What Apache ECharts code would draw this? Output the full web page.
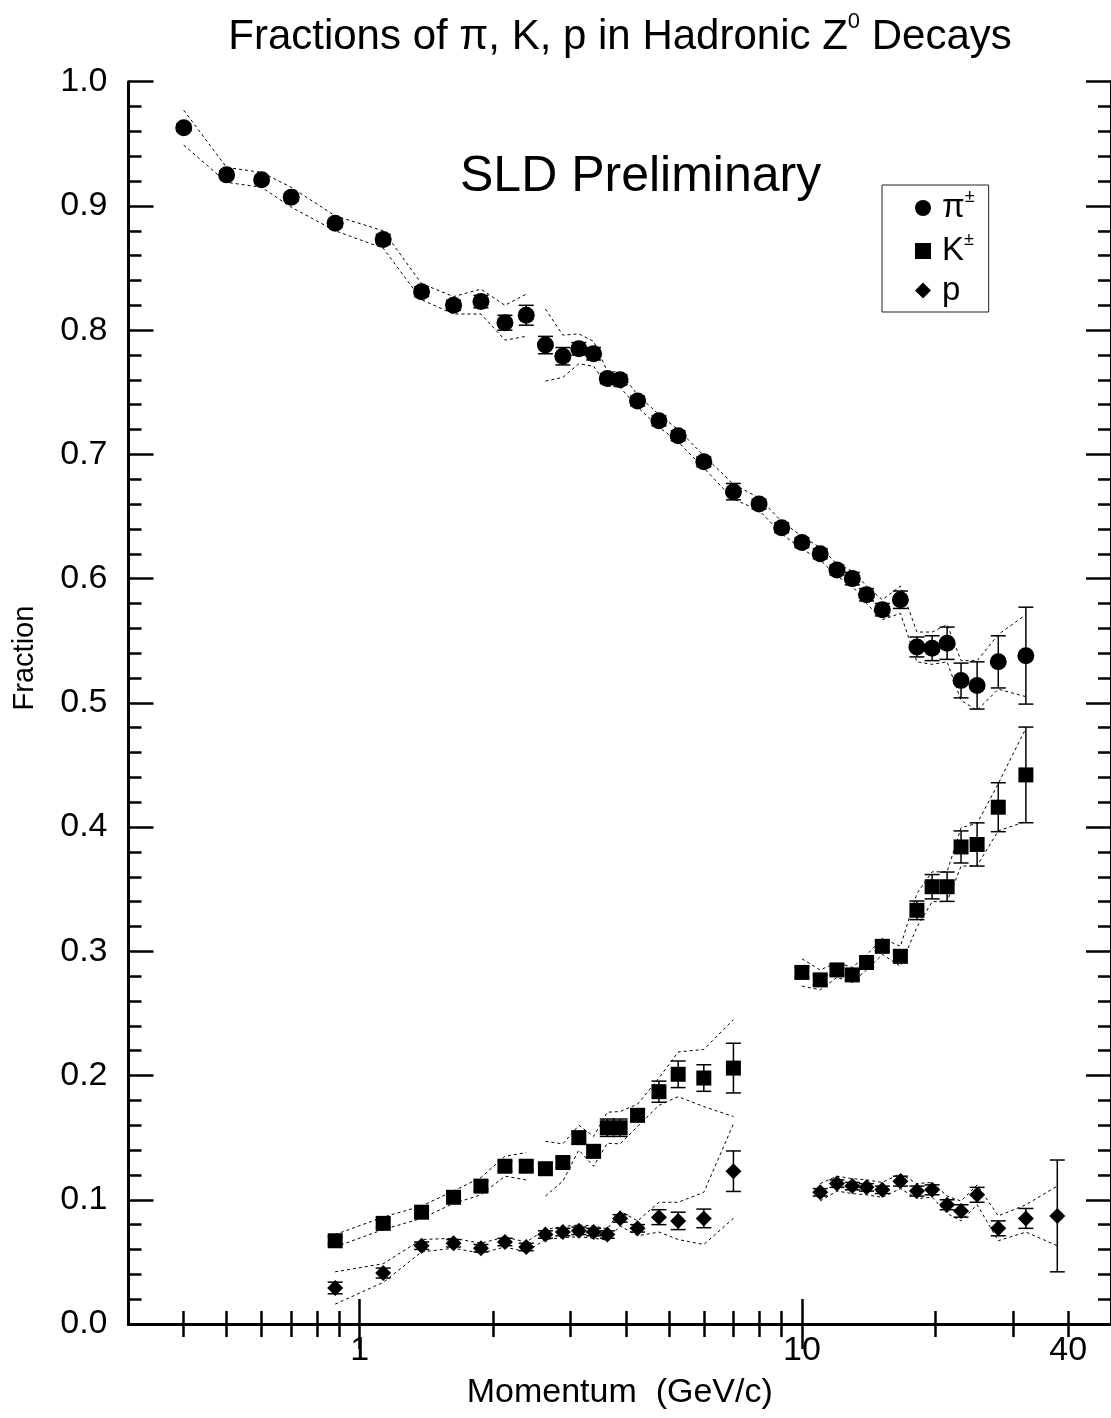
<!DOCTYPE html>
<html>
<head>
<meta charset="utf-8">
<script src="https://cdn.jsdelivr.net/npm/echarts@6/dist/echarts.min.js"></script>
<style>
html,body{margin:0;padding:0;background:#fff;}
#chart{width:1111px;height:1418px;}
</style>
</head>
<body>
<div id="chart"></div>
<script>
// ---------------- data ----------------
// pions
const xPi = [0.4,0.5,0.6,0.7,0.88,1.13,1.38,1.63,1.88,2.13,2.38,2.63,2.88,3.13,3.38,3.63,3.88,4.25,4.75,5.25,6.0,7.0,8.0,9.0,10.0,11.0,12.0,13.0,14.0,15.2,16.7,18.2,19.7,21.3,22.9,24.9,27.8,32.1];
const yPi = [0.963,0.925,0.921,0.907,0.886,0.873,0.831,0.820,0.823,0.806,0.812,0.788,0.779,0.785,0.781,0.761,0.760,0.743,0.727,0.715,0.694,0.670,0.660,0.641,0.629,0.620,0.607,0.600,0.587,0.575,0.583,0.545,0.544,0.548,0.518,0.514,0.533,0.538];
const errPi = [0.003,0.003,0.003,0.003,0.003,0.004,0.004,0.004,0.005,0.006,0.008,0.007,0.007,0.005,0.005,0.004,0.004,0.004,0.004,0.004,0.004,0.0066,0.004,0.004,0.004,0.004,0.004,0.005,0.005,0.005,0.007,0.008,0.010,0.013,0.014,0.019,0.021,0.039];
const sysPi = [0.014,0.006,0.006,0.008,0.006,0.007,0.0065,0.007,0.010,0.014,0.017,0.029,0.017,0.012,0.010,0.006,0.006,0.005,0.005,0.005,0.005,0.006,0.005,0.005,0.005,0.005,0.005,0.006,0.007,0.008,0.011,0.012,0.013,0.015,0.016,0.020,0.022,0.033];
const segPi = [[0,10],[11,37]];

// kaons
const xK = [0.88,1.13,1.38,1.63,1.88,2.13,2.38,2.63,2.88,3.13,3.38,3.63,3.88,4.25,4.75,5.25,6.0,7.0,10.0,11.0,12.0,13.0,14.0,15.2,16.7,18.2,19.7,21.3,22.9,24.9,27.8,32.1];
const yK = [0.067,0.081,0.090,0.102,0.111,0.127,0.127,0.125,0.130,0.150,0.139,0.158,0.158,0.168,0.187,0.201,0.198,0.206,0.283,0.277,0.285,0.281,0.291,0.304,0.296,0.333,0.352,0.352,0.384,0.386,0.416,0.442];
const errK = [0.003,0.003,0.003,0.003,0.004,0.004,0.004,0.004,0.004,0.005,0.005,0.007,0.007,0.005,0.0085,0.0107,0.0107,0.020,0.004,0.004,0.004,0.004,0.004,0.004,0.005,0.0075,0.0098,0.0118,0.0129,0.0174,0.0197,0.0385];
const sysK = [0.005,0.005,0.005,0.005,0.007,0.008,0.011,0.022,0.015,0.010,0.012,0.0125,0.013,0.009,0.011,0.018,0.023,0.039,0.011,0.008,0.006,0.006,0.006,0.0065,0.008,0.0135,0.012,0.012,0.0155,0.017,0.019,0.0375];
const segK = [[0,6],[7,17],[18,31]];

// protons
const xP = [0.88,1.13,1.38,1.63,1.88,2.13,2.38,2.63,2.88,3.13,3.38,3.63,3.88,4.25,4.75,5.25,6.0,7.0,11.0,12.0,13.0,14.0,15.2,16.7,18.2,19.7,21.3,22.9,24.9,27.8,32.1,37.8];
const yP = [0.029,0.041,0.063,0.065,0.061,0.066,0.062,0.072,0.074,0.075,0.074,0.072,0.085,0.077,0.086,0.083,0.085,0.123,0.106,0.113,0.111,0.110,0.108,0.115,0.107,0.108,0.096,0.091,0.104,0.077,0.085,0.087];
const errP = [0.0047,0.004,0.003,0.003,0.003,0.003,0.003,0.003,0.003,0.003,0.003,0.003,0.003,0.003,0.006,0.007,0.0075,0.0163,0.003,0.003,0.003,0.003,0.003,0.004,0.004,0.004,0.004,0.005,0.006,0.006,0.008,0.045];
const sysP = [0.013,0.0075,0.005,0.004,0.004,0.004,0.004,0.004,0.0045,0.0047,0.005,0.0045,0.006,0.006,0.012,0.015,0.021,0.038,0.007,0.006,0.006,0.006,0.006,0.006,0.006,0.006,0.007,0.008,0.008,0.010,0.011,0.024];
const segP = [[0,17],[18,31]];

// axis ticks / labels
const xMajorTicks = [1, 10];
const xMinorTicks = [0.4,0.5,0.6,0.7,0.8,0.9,2,3,4,5,6,7,8,9,20,30,40];
const xLabels = [1, 10, 40];
const yMinorTicks = [];
for (let i = 0; i <= 50; i++) { if (i % 5 !== 0) yMinorTicks.push(+(i * 0.02).toFixed(2)); }

// ---------------- chart ----------------
const FONT = '"Liberation Sans", Arial, Helvetica, sans-serif';
const BLACK = '#000';
const chart = echarts.init(document.getElementById('chart'), null, {renderer: 'canvas'});

function bandSeries(xs, ys, sys, segs) {
  const out = [];
  segs.forEach(([a, b]) => {
    [1, -1].forEach(sign => {
      const d = [];
      for (let i = a; i <= b; i++) d.push([xs[i], ys[i] + sign * sys[i]]);
      out.push({
        type: 'line', data: d, showSymbol: false, silent: true, z: 1,
        lineStyle: {color: BLACK, width: 1, type: [3, 3]}
      });
    });
  });
  return out;
}
function errSeries(xs, ys, err) {
  return {
    type: 'custom', silent: true, z: 2,
    data: xs.map((x, i) => [x, ys[i] - err[i], ys[i] + err[i]]),
    encode: {x: 0, y: [1, 2]},
    renderItem: function (params, api) {
      const x = api.value(0);
      const p1 = api.coord([x, api.value(2)]);
      const p2 = api.coord([x, api.value(1)]);
      const cw = 7.5;
      const st = {stroke: BLACK, lineWidth: 1.5};
      return {type: 'group', children: [
        {type: 'line', shape: {x1: p1[0], y1: p1[1], x2: p2[0], y2: p2[1]}, style: st},
        {type: 'line', shape: {x1: p1[0] - cw, y1: p1[1], x2: p1[0] + cw, y2: p1[1]}, style: st},
        {type: 'line', shape: {x1: p2[0] - cw, y1: p2[1], x2: p2[0] + cw, y2: p2[1]}, style: st}
      ]};
    }
  };
}
function pts(name, xs, ys, symbol, size) {
  return {
    name: name, type: 'scatter', symbol: symbol, symbolSize: size, z: 3,
    itemStyle: {color: BLACK, opacity: 1},
    data: xs.map((x, i) => [x, ys[i]])
  };
}

const LBL = 34;
const axLine = {show: true, lineStyle: {color: BLACK, width: 3}};
const noLine = {show: false};
function xAx(pos, ticks, len, withLabels, showLine) {
  return {
    type: 'log', logBase: 10, min: 0.3, max: 50, position: pos,
    axisLine: showLine ? axLine : noLine,
    axisTick: {show: true, inside: true, length: len, customValues: ticks, lineStyle: {color: BLACK, width: 2.5}},
    axisLabel: withLabels ? {show: true, customValues: xLabels, fontSize: LBL, fontFamily: FONT, color: BLACK, margin: 10} : {show: false},
    splitLine: {show: false}, minorTick: {show: false}, minorSplitLine: {show: false},
    name: withLabels ? 'Momentum  (GeV/c)' : '', nameLocation: 'middle', nameGap: 52,
    nameTextStyle: {fontSize: LBL, fontFamily: FONT, color: BLACK}
  };
}
function yAx(pos, minor, withLabels) {
  const o = {
    type: 'value', min: 0, max: 1, interval: 0.1, position: pos,
    axisLine: minor ? noLine : axLine,
    axisTick: {show: true, inside: true, length: minor ? 13 : 25, lineStyle: {color: BLACK, width: 2.5}},
    axisLabel: withLabels ? {show: true, fontSize: LBL, fontFamily: FONT, color: BLACK, margin: 21, formatter: v => v.toFixed(1)} : {show: false},
    splitLine: {show: false}
  };
  if (minor) o.axisTick.customValues = yMinorTicks;
  return o;
}

const option = {
  animation: false,
  backgroundColor: '#fff',
  textStyle: {fontFamily: FONT},
  title: [
    {
      text: '{a|Fractions of π, K, p in Hadronic Z}{b|0}{a| Decays}',
      left: 615, top: 6, textAlign: 'center',
      textStyle: {fontWeight: 'normal', rich: {
        a: {fontSize: 42, fontWeight: 'normal', fontFamily: FONT, color: BLACK, lineHeight: 52},
        b: {fontSize: 22, fontWeight: 'normal', fontFamily: FONT, color: BLACK, verticalAlign: 'top', lineHeight: 22}
      }}
    },
    {
      text: 'SLD Preliminary', left: 455, top: 147,
      textStyle: {fontSize: 50, fontWeight: 'normal', fontFamily: FONT, color: BLACK}
    }
  ],
  grid: {left: 128.5, right: -3, top: 81.7, bottom: 94, containLabel: false},
  xAxis: [
    xAx('bottom', xMajorTicks, 25, true, true),
    xAx('bottom', xMinorTicks, 13, false, false),
    xAx('top', xMajorTicks, 25, false, true),
    xAx('top', xMinorTicks, 13, false, false)
  ],
  yAxis: [
    yAx('left', false, true),
    yAx('left', true, false),
    yAx('right', false, false),
    yAx('right', true, false)
  ],
  legend: {
    orient: 'vertical', left: 882, top: 185,
    itemWidth: 16, itemHeight: 16, itemGap: 6.5,
    padding: [3, 14, 5, 33],
    borderColor: '#222', borderWidth: 1, backgroundColor: '#fff',
    selectedMode: false,
    data: [{name: 'pi', icon: 'circle'}, {name: 'K', icon: 'rect'}, {name: 'p', icon: 'diamond'}],
    formatter: function (n) {
      return n === 'pi' ? '{m|π}{s|±}' : (n === 'K' ? '{m|K}{s|±}' : '{m|p}');
    },
    textStyle: {color: BLACK, fontFamily: FONT, fontSize: 33, rich: {
      m: {fontSize: 33, fontFamily: FONT, color: BLACK, lineHeight: 40, padding: [0, 0, 0, 6]},
      s: {fontSize: 18, fontFamily: FONT, color: BLACK, verticalAlign: 'top', lineHeight: 14}
    }}
  },
  graphic: [
    {type: 'text', x: 25, y: 658, rotation: Math.PI / 2,
     style: {text: 'Fraction', fontSize: 29, fontFamily: FONT, fill: BLACK, textAlign: 'center', textVerticalAlign: 'middle'}}
  ],
  series: [].concat(
    bandSeries(xPi, yPi, sysPi, segPi),
    bandSeries(xK, yK, sysK, segK),
    bandSeries(xP, yP, sysP, segP),
    [errSeries(xPi, yPi, errPi), errSeries(xK, yK, errK), errSeries(xP, yP, errP)],
    [pts('pi', xPi, yPi, 'circle', 17), pts('K', xK, yK, 'rect', 15), pts('p', xP, yP, 'diamond', 16)]
  )
};
chart.setOption(option);
</script>
</body>
</html>
